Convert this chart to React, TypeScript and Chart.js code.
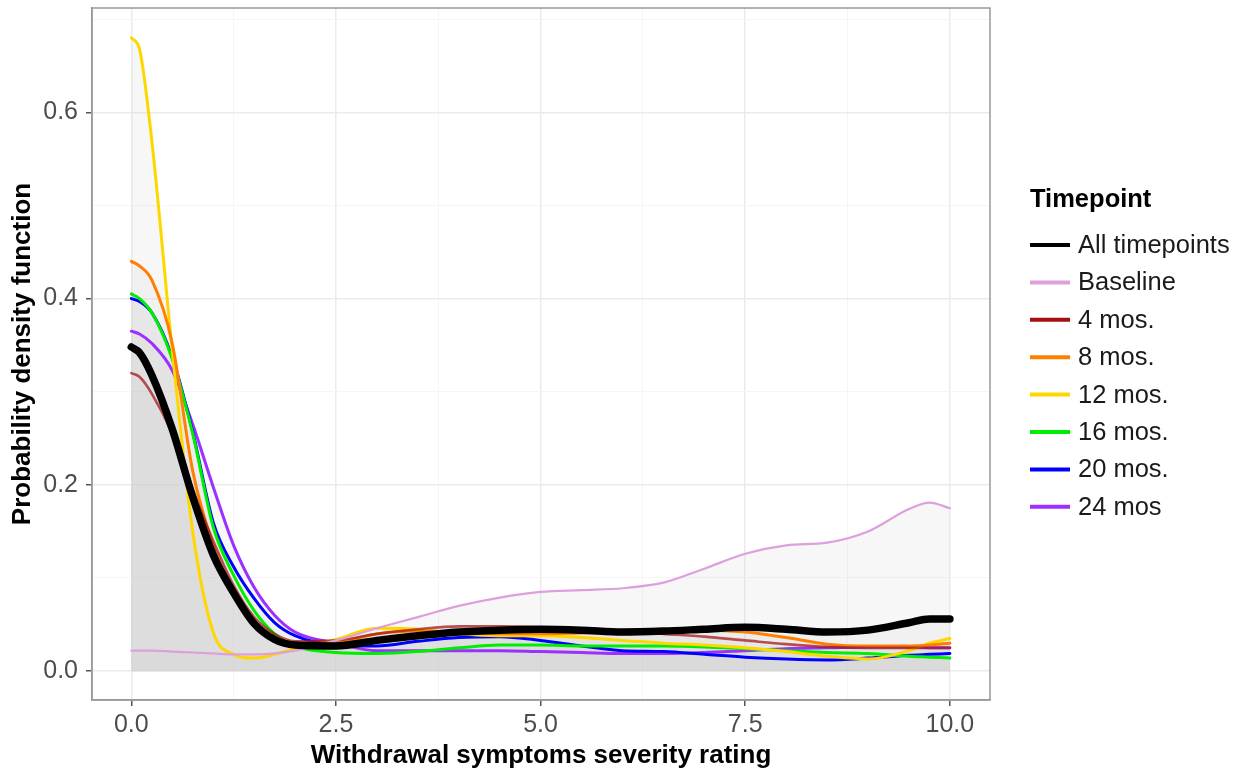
import React, { useEffect, useRef } from "react";
import { Chart, registerables } from "chart.js";

Chart.register(...registerables);

// ---------- data ----------
const xs = [0, 0.1, 0.25, 0.5, 0.75, 1, 1.25, 1.5, 1.75, 2, 2.5, 3, 3.5, 4, 4.5, 5, 5.5, 6, 6.5, 7, 7.5, 8, 8.5, 9, 9.5, 9.75, 10];

const allTimepoints = [0.348, 0.342, 0.318, 0.26, 0.187, 0.125, 0.084, 0.051, 0.034, 0.028, 0.027, 0.033, 0.038, 0.042, 0.044, 0.045, 0.044, 0.042, 0.043, 0.045, 0.047, 0.045, 0.042, 0.044, 0.052, 0.056, 0.056];
const baseline = [0.022, 0.022, 0.022, 0.021, 0.02, 0.019, 0.018, 0.018, 0.019, 0.022, 0.033, 0.046, 0.058, 0.07, 0.079, 0.085, 0.087, 0.089, 0.095, 0.11, 0.126, 0.135, 0.138, 0.15, 0.174, 0.181, 0.175];
const mos4 = [0.32, 0.316, 0.298, 0.255, 0.195, 0.14, 0.092, 0.058, 0.04, 0.032, 0.033, 0.04, 0.045, 0.048, 0.048, 0.047, 0.045, 0.043, 0.04, 0.037, 0.033, 0.029, 0.026, 0.025, 0.025, 0.025, 0.025];
const mos8 = [0.44, 0.435, 0.42, 0.352, 0.215, 0.135, 0.085, 0.05, 0.033, 0.027, 0.03, 0.04, 0.043, 0.042, 0.04, 0.04, 0.041, 0.042, 0.043, 0.044, 0.042, 0.036, 0.029, 0.027, 0.027, 0.028, 0.03];
const mos12 = [0.68, 0.668, 0.57, 0.345, 0.15, 0.042, 0.018, 0.014, 0.018, 0.024, 0.034, 0.046, 0.045, 0.04, 0.038, 0.038, 0.036, 0.033, 0.03, 0.028, 0.025, 0.021, 0.016, 0.013, 0.022, 0.03, 0.035];
const mos16 = [0.405, 0.4, 0.385, 0.335, 0.255, 0.155, 0.103, 0.065, 0.04, 0.027, 0.02, 0.019, 0.021, 0.025, 0.028, 0.028, 0.027, 0.027, 0.027, 0.026, 0.024, 0.022, 0.02, 0.019, 0.016, 0.015, 0.014];
const mos20 = [0.4, 0.397, 0.385, 0.337, 0.257, 0.16, 0.112, 0.078, 0.052, 0.038, 0.028, 0.027, 0.032, 0.036, 0.037, 0.033, 0.027, 0.022, 0.021, 0.018, 0.015, 0.013, 0.012, 0.014, 0.017, 0.018, 0.019];
const mos24 = [0.365, 0.362, 0.352, 0.323, 0.265, 0.198, 0.135, 0.09, 0.06, 0.042, 0.03, 0.022, 0.022, 0.022, 0.022, 0.021, 0.02, 0.019, 0.019, 0.02, 0.022, 0.024, 0.025, 0.026, 0.026, 0.025, 0.025];

const seriesValues = [allTimepoints, baseline, mos4, mos8, mos12, mos16, mos20, mos24];
const seriesNames = ["All timepoints", "Baseline", "4 mos.", "8 mos.", "12 mos.", "16 mos.", "20 mos.", "24 mos"];
const lineColors = ["#000000", "#dda0dd", "rgba(165,25,25,0.75)", "#ff7f00", "#ffd700", "#00ee00", "#0000ff", "#9b30ff"];
const legendColors = ["#000000", "#dda0dd", "#a50f0f", "#ff7f00", "#ffd700", "#00ee00", "#0000ff", "#9b30ff"];
const lineWidths = [7.5, 2.2, 2.6, 3, 3, 3, 3, 3];

const xTickValues = [0, 2.5, 5, 7.5, 10];
const yTickValues = [0, 0.2, 0.4, 0.6];
const xTitle = "Withdrawal symptoms severity rating";
const yTitle = "Probability density function";
const legendTitle = "Timepoint";

const FONT = '"Liberation Sans", Arial, Helvetica, sans-serif';

const isMajor = (v: number, list: number[]) => list.some((t) => Math.abs(t - v) < 1e-6);

const zeroPad = (s: any) => {
  s.paddingTop = 0;
  s.paddingBottom = 0;
  s.paddingLeft = 0;
  s.paddingRight = 0;
};

const panelBorder = {
  id: "panelBorder",
  afterDatasetsDraw(chart: any) {
    const { ctx, chartArea: a } = chart;
    ctx.save();
    ctx.strokeStyle = "#999999";
    ctx.lineWidth = 1.5;
    ctx.strokeRect(a.left, a.top, a.right - a.left, a.bottom - a.top);
    ctx.restore();
  },
};

const customLegend = {
  id: "customLegend",
  afterDraw(chart: any) {
    const ctx = chart.ctx;
    ctx.save();
    ctx.textBaseline = "middle";
    ctx.textAlign = "left";
    ctx.fillStyle = "#000";
    ctx.font = `bold 25.5px ${FONT}`;
    ctx.fillText(legendTitle, 1030, 200);
    chart.data.datasets.forEach((ds: any, i: number) => {
      const y = 245 + i * 37.4;
      ctx.strokeStyle = legendColors[i];
      ctx.lineWidth = 4;
      ctx.beginPath();
      ctx.moveTo(1030, y);
      ctx.lineTo(1070, y);
      ctx.stroke();
      ctx.fillStyle = "#1a1a1a";
      ctx.font = `25.5px ${FONT}`;
      ctx.fillText(ds.label, 1078, y + 1);
    });
    ctx.restore();
  },
};

export default function App() {
  const ref = useRef<HTMLCanvasElement | null>(null);

  useEffect(() => {
    if (!ref.current) return;
    Chart.defaults.font.family = FONT;
    const datasets = seriesValues.map((vals, i) => ({
      label: seriesNames[i],
      data: xs.map((x, j) => ({ x, y: vals[j] })),
      borderColor: lineColors[i],
      borderWidth: lineWidths[i],
      backgroundColor: "rgba(210,210,210,0.17)",
      fill: "origin",
      pointRadius: 0,
      cubicInterpolationMode: "monotone" as const,
      borderCapStyle: "round" as const,
    }));

    const chart = new Chart(ref.current, {
      type: "line",
      data: { datasets },
      plugins: [panelBorder, customLegend],
      options: {
        animation: false,
        responsive: false,
        devicePixelRatio: 1,
        layout: { autoPadding: false, padding: { left: 0, top: 8, right: 248, bottom: 0 } },
        plugins: {
          legend: { display: false },
          tooltip: { enabled: false },
          filler: { drawTime: "beforeDatasetsDraw" },
        },
        scales: {
          x: {
            type: "linear",
            min: -0.48,
            max: 10.49,
            afterFit: (s: any) => {
              s.height = 72;
              zeroPad(s);
            },
            ticks: {
              stepSize: 1.25,
              includeBounds: false,
              autoSkip: false,
              maxRotation: 0,
              padding: 4,
              color: "#4d4d4d",
              font: { size: 25 },
              callback: (v: any) => (isMajor(Number(v), xTickValues) ? Number(v).toFixed(1) : ""),
            },
            grid: {
              color: (c: any) => (isMajor(c.tick?.value ?? 0, xTickValues) ? "#ebebeb" : "#f5f5f5"),
              lineWidth: (c: any) => (isMajor(c.tick?.value ?? 0, xTickValues) ? 1.5 : 1),
              tickColor: (c: any) => (isMajor(c.tick?.value ?? 0, xTickValues) ? "#555555" : "rgba(0,0,0,0)"),
              tickLength: 6,
            },
            border: { display: true, color: "#999999", width: 1.5 },
            title: {
              display: true,
              text: xTitle,
              color: "#000",
              font: { size: 26, weight: "bold" },
              padding: { top: 0, bottom: 1 },
            },
          },
          y: {
            type: "linear",
            min: -0.031,
            max: 0.712,
            afterFit: (s: any) => {
              s.width = 92;
              zeroPad(s);
            },
            ticks: {
              stepSize: 0.1,
              includeBounds: false,
              autoSkip: false,
              padding: 8,
              color: "#4d4d4d",
              font: { size: 25 },
              callback: (v: any) => (isMajor(Number(v), yTickValues) ? Number(v).toFixed(1) : ""),
            },
            grid: {
              color: (c: any) => (isMajor(c.tick?.value ?? 0, yTickValues) ? "#ebebeb" : "#f5f5f5"),
              lineWidth: (c: any) => (isMajor(c.tick?.value ?? 0, yTickValues) ? 1.5 : 1),
              tickColor: (c: any) => (isMajor(c.tick?.value ?? 0, yTickValues) ? "#555555" : "rgba(0,0,0,0)"),
              tickLength: 6,
            },
            border: { display: true, color: "#999999", width: 1.5 },
            title: {
              display: true,
              text: yTitle,
              color: "#000",
              font: { size: 26, weight: "bold" },
              padding: { top: 7, bottom: 0 },
            },
          },
        },
      },
    });
    return () => chart.destroy();
  }, []);

  return (
    <div style={{ position: "absolute", left: 0, top: 0, width: 1238, height: 772, background: "#fff" }}>
      <canvas ref={ref} width={1238} height={772} style={{ display: "block" }} />
    </div>
  );
}
